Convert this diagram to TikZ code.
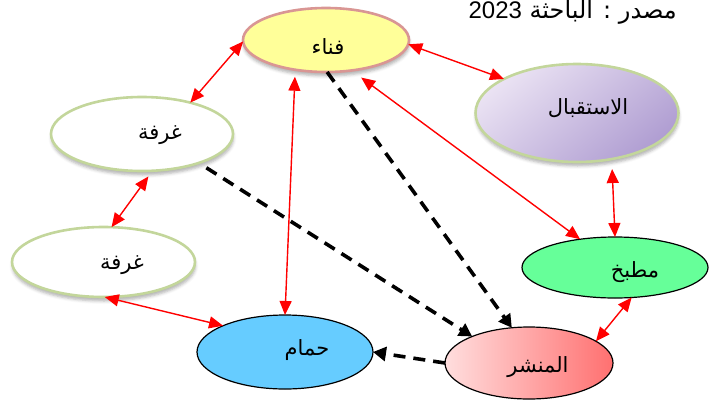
\documentclass[tikz,border=0pt]{standalone}
\usepackage{fontspec}
\newfontfamily\arabicfont[Script=Arabic]{DejaVu Sans}
\newfontfamily\latinfont{Liberation Sans}
\TeXXeTstate=1
\usetikzlibrary{shapes.geometric,arrows.meta,shadows.blur}

\definecolor{roomedge}{RGB}{195,214,155}
\definecolor{fanaafill}{RGB}{255,255,153}
\definecolor{fanaaedge}{RGB}{217,150,148}
\definecolor{recA}{RGB}{234,226,243}
\definecolor{recB}{RGB}{176,158,210}
\definecolor{bathfill}{RGB}{102,204,255}
\definecolor{kitchenfill}{RGB}{102,255,153}
\definecolor{dryA}{RGB}{255,222,222}
\definecolor{dryB}{RGB}{255,112,112}
\definecolor{linkred}{RGB}{255,0,0}

\begin{document}
\begin{tikzpicture}[x=1pt,y=-1pt,
  space/.style={ellipse, inner sep=0pt, outer sep=0pt, draw=black, line width=1.2pt},
  soft/.style={line width=2.6pt,
    blur shadow={shadow xshift=0.5pt, shadow yshift=-4pt, shadow blur radius=3pt, shadow opacity=30}},
  lbl/.style={font=\arabicfont\fontsize{21pt}{25pt}\selectfont, inner sep=0pt},
  link/.style={draw=linkred, line width=1.4pt,
    arrows={Triangle[length=14pt,width=12pt]-Triangle[length=14pt,width=12pt]}},
  flow/.style={draw=black, line width=3.6pt, dash pattern=on 12pt off 8pt,
    arrows={-Triangle[length=13pt,width=14pt]}}]
\useasboundingbox (0,0) rectangle (711,399);

% spaces of the house
\node[space, soft, draw=fanaaedge, fill=fanaafill, minimum width=166pt, minimum height=64pt] (fanaa) at (326,40) {};
\node[space, soft, draw=roomedge, top color=recA, bottom color=recB, shading angle=40,
      minimum width=203pt, minimum height=98pt] (reception) at (577,113) {};
\node[space, soft, draw=roomedge, fill=white, minimum width=182pt, minimum height=74pt] (room1) at (142,134) {};
\node[space, soft, draw=roomedge, fill=white, minimum width=183pt, minimum height=70pt] (room2) at (103.5,262) {};
\node[space, fill=bathfill, minimum width=176pt, minimum height=74pt] (bath) at (285,352) {};
\node[space, fill=kitchenfill, minimum width=186pt, minimum height=61pt] (kitchen) at (615,267.5) {};
\node[space, left color=dryA, right color=dryB, minimum width=168pt, minimum height=72pt] (drying) at (529,363) {};

% names of the spaces
\node[lbl] (fanaaT) at (328,47) {\beginR فناء\endR};
\node[lbl] (receptionT) at (588,108) {\beginR الاستقبال\endR};
\node[lbl] (room1T) at (160,135) {\beginR غرفة\endR};
\node[lbl] (room2T) at (122,265) {\beginR غرفة\endR};
\node[lbl] (bathT) at (307,350) {\beginR حمام\endR};
\node[lbl] (kitchenT) at (635,272) {\beginR مطبخ\endR};
\node[lbl] (dryingT) at (538,367) {\beginR المنشر\endR};

% source line
\node[anchor=base east, inner sep=0pt, font=\fontsize{24pt}{28pt}\selectfont] (source) at (677,18)
  {\arabicfont\beginR مصدر : الباحثة \beginL{\latinfont 2023}\endL\endR};

% two-way links between spaces
\draw[link] (fanaa.-3) -- (reception.155);
\draw[link] (fanaa.181) -- (room1.33);
\draw[link, shorten <=7pt] (fanaa.-136) -- (bath.90);
\draw[link, shorten <=12pt] (fanaa.-50) -- (kitchen.141);
\draw[link, shorten <=10pt] (reception.-53) -- (kitchen.90);
\draw[link, shorten <=7pt] (room1.-74.5) -- (room2.77);
\draw[link] (room2.-88) -- (bath.157);
\draw[link] (kitchen.-61) -- (drying.18);

% one-way paths
\draw[flow, shorten <=9pt] (room1.-27) -- (drying.155);
\draw[flow] (fanaa.-88) -- (drying.116);
\draw[flow] (drying.180) -- (bath.0);
\end{tikzpicture}
\end{document}
